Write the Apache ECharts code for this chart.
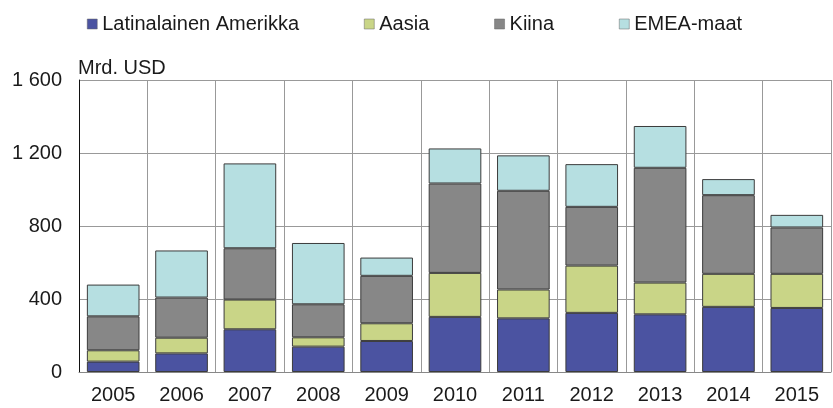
<!DOCTYPE html>
<html>
<head>
<meta charset="utf-8">
<script src="https://cdn.jsdelivr.net/npm/echarts@6/dist/echarts.min.js"></script>
<style>
  html, body { margin: 0; padding: 0; background: #fff; }
  #chart { width: 833px; height: 408px; }
</style>
</head>
<body>
<div id="chart"></div>
<script>
var years = ['2005', '2006', '2007', '2008', '2009', '2010', '2011', '2012', '2013', '2014', '2015'];
var latam = [57, 102, 234, 139, 170, 302, 294, 324, 316, 357, 351];
var aasia = [62, 86, 163, 51, 97, 241, 158, 259, 174, 181, 187];
var kiina = [186, 220, 281, 181, 260, 490, 541, 322, 629, 431, 254];
var emea = [174, 258, 465, 336, 100, 192, 194, 234, 229, 88, 69];

var chart = echarts.init(document.getElementById('chart'));
var font = 'Liberation Sans, Arial, sans-serif';

function bar(name, data, color) {
    return {
        name: name,
        type: 'bar',
        stack: 'total',
        data: data,
        barCategoryGap: '23%',
        itemStyle: {
            color: color,
            borderColor: '#3c3c3c',
            borderWidth: 1
        }
    };
}

var option = {
    animation: false,
    textStyle: { fontFamily: font },
    legend: {
        left: 82,
        top: 9,
        itemWidth: 10,
        itemHeight: 10,
        itemGap: 65,
        icon: 'rect',
        itemStyle: { borderColor: '#666', borderWidth: 0.5 },
        textStyle: { fontSize: 20, color: '#1a1a1a' },
        data: ['Latinalainen Amerikka', 'Aasia', 'Kiina', 'EMEA-maat']
    },
    graphic: [{
        type: 'text',
        left: 78,
        top: 58,
        style: { text: 'Mrd. USD', fontSize: 20, fill: '#1a1a1a', fontFamily: font }
    }],
    grid: { left: 79, right: 2, top: 80, bottom: 36 },
    xAxis: {
        type: 'category',
        data: years,
        axisTick: { show: false },
        axisLine: { lineStyle: { color: '#888', width: 1 } },
        axisLabel: { fontSize: 20, color: '#1a1a1a', margin: 13 },
        splitLine: { show: true, lineStyle: { color: '#999', width: 1 } }
    },
    yAxis: {
        type: 'value',
        min: 0,
        max: 1600,
        interval: 400,
        axisLine: { show: true, lineStyle: { color: '#111', width: 1 } },
        axisTick: { show: false },
        axisLabel: {
            fontSize: 20,
            color: '#1a1a1a',
            margin: 17,
            formatter: function (v) {
                return String(v).replace(/\B(?=(\d{3})+(?!\d))/g, ' ');
            }
        },
        splitLine: { lineStyle: { color: '#999', width: 1 } }
    },
    series: [
        bar('Latinalainen Amerikka', latam, '#4b53a1'),
        bar('Aasia', aasia, '#c9d587'),
        bar('Kiina', kiina, '#878787'),
        bar('EMEA-maat', emea, '#b6dfe1')
    ]
};

chart.setOption(option);
</script>
</body>
</html>
